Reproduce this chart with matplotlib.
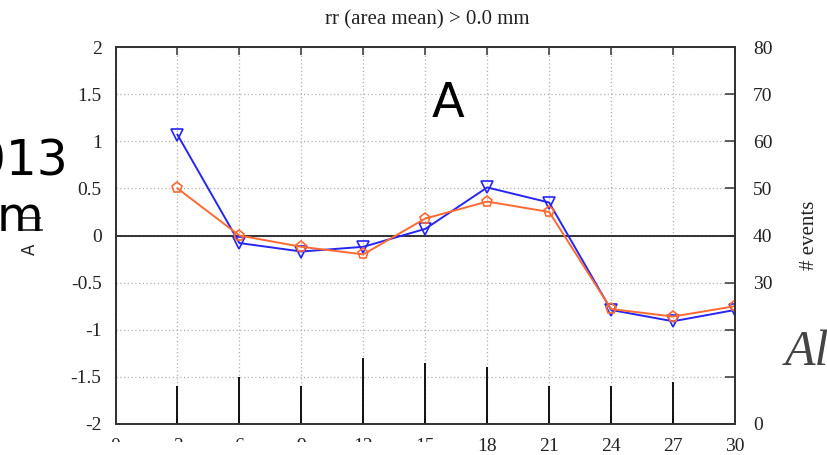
import matplotlib
matplotlib.use("Agg")
import matplotlib.pyplot as plt
from matplotlib.patches import Rectangle
from matplotlib.lines import Line2D

# ---- data ----
hours = [3, 6, 9, 12, 15, 18, 21, 24, 27, 30]
series_blue = [1.07, -0.08, -0.17, -0.12, 0.07, 0.51, 0.35, -0.79, -0.91, -0.79]
series_orange = [0.50, 0.00, -0.12, -0.20, 0.18, 0.36, 0.25, -0.78, -0.86, -0.75]
event_hours = [3, 6, 9, 12, 15, 18, 21, 24, 27]
event_counts = [8, 10, 8, 14, 13, 12, 8, 8, 9]
x_ticks = [0, 3, 6, 9, 12, 15, 18, 21, 24, 27, 30]
y_ticks = [-2, -1.5, -1, -0.5, 0, 0.5, 1, 1.5, 2]
y_tick_labels = ["-2", "-1.5", "-1", "-0.5", "0", "0.5", "1", "1.5", "2"]
y2_ticks = [0, 10, 20, 30, 40, 50, 60, 70, 80]
y2_tick_labels = ["0", "", "", "30", "40", "50", "60", "70", "80"]
title = "rr (area mean) > 0.0 mm"

W, H = 827, 455
fig = plt.figure(figsize=(W / 100, H / 100), dpi=100)
L, R, T, B = 115.5, 735, 47, 424
ax = fig.add_axes([L / W, 1 - B / H, (R - L) / W, (B - T) / H])
ax2 = ax.twinx()

serif = "Liberation Serif"
ink = "#333333"

# grid
ax.set_axisbelow(True)
ax.grid(True, color="#b0b0b0", linestyle=(0, (1, 2)), linewidth=0.9)
ax.axhline(0, color="#222222", linewidth=1.3, zorder=1)

ax.plot(hours, series_blue, color="#2626f2", linewidth=1.4, marker="v",
        markersize=8.5, markerfacecolor="none", markeredgewidth=1.2, zorder=3)
ax.plot(hours, series_orange, color="#ff6a33", linewidth=1.4, marker="p",
        markersize=8, markerfacecolor="none", markeredgewidth=1.2, zorder=4)

ax2.vlines(event_hours, 0, event_counts, color="#111111", linewidth=1.4)

ax.set_xlim(0, 30)
ax.set_ylim(-2, 2)
ax2.set_ylim(0, 80)
ax.set_xticks(x_ticks)
ax.set_xticklabels([str(v) for v in x_ticks])
ax.set_yticks(y_ticks)
ax.set_yticklabels(y_tick_labels)
ax2.set_yticks(y2_ticks)
ax2.set_yticklabels(y2_tick_labels)

for a in (ax, ax2):
    for s in a.spines.values():
        s.set_color(ink)
        s.set_linewidth(1.3)
ax.tick_params(axis="x", direction="in", length=6, width=1.1, color=ink,
               top=True, pad=10, labelsize=14, labelcolor="#222222")
ax.tick_params(axis="y", direction="in", length=0, pad=10, labelsize=14,
               labelcolor="#222222")
ax2.tick_params(axis="y", direction="in", length=7, width=1.1, color=ink,
                pad=13, labelsize=14, labelcolor="#222222")
for lab in ax.get_xticklabels() + ax.get_yticklabels() + ax2.get_yticklabels():
    lab.set_fontfamily(serif)

fig.text(427 / W, 1 - 24 / H, title, ha="center", va="baseline",
         fontsize=15, family=serif, color="#222222")
fig.text(809 / W, 1 - 235 / H, "# events", ha="center", va="center",
         rotation=90, fontsize=15, family=serif, color="#222222")

# overlapping fragments from the source page
fig.text(448 / W, 1 - 117 / H, "A", ha="center", va="baseline",
         fontsize=34.5, family="DejaVu Sans", color="black")
fig.text(68 / W, 1 - 176 / H, "2013", ha="right", va="baseline",
         fontsize=35, family="DejaVu Sans", color="black")
fig.text(43 / W, 1 - 231 / H, "m", ha="right", va="baseline",
         fontsize=34.5, family="DejaVu Sans", color="black")
fig.add_artist(Line2D([22 / W, 40 / W], [1 - 218 / H, 1 - 218 / H],
                      transform=fig.transFigure, color="#222222", linewidth=1.2))
fig.add_artist(Line2D([22 / W, 42 / W], [1 - 230 / H, 1 - 230 / H],
                      transform=fig.transFigure, color="#222222", linewidth=1.2))
fig.text(30 / W, 1 - 249 / H, "A", ha="center", va="center", rotation=90,
         fontsize=12, family="DejaVu Sans", color="#222222")
fig.text(785 / W, 1 - 365 / H, "Al", ha="left", va="baseline",
         fontsize=36, family=serif, style="italic", color="#444444")

# the lower-left tick labels are hidden in the source image
fig.add_artist(Rectangle((100 / W, 0), 360 / W, 13 / H, transform=fig.transFigure,
                         facecolor="white", edgecolor="none", zorder=10))

fig.savefig("out.png", dpi=100)
